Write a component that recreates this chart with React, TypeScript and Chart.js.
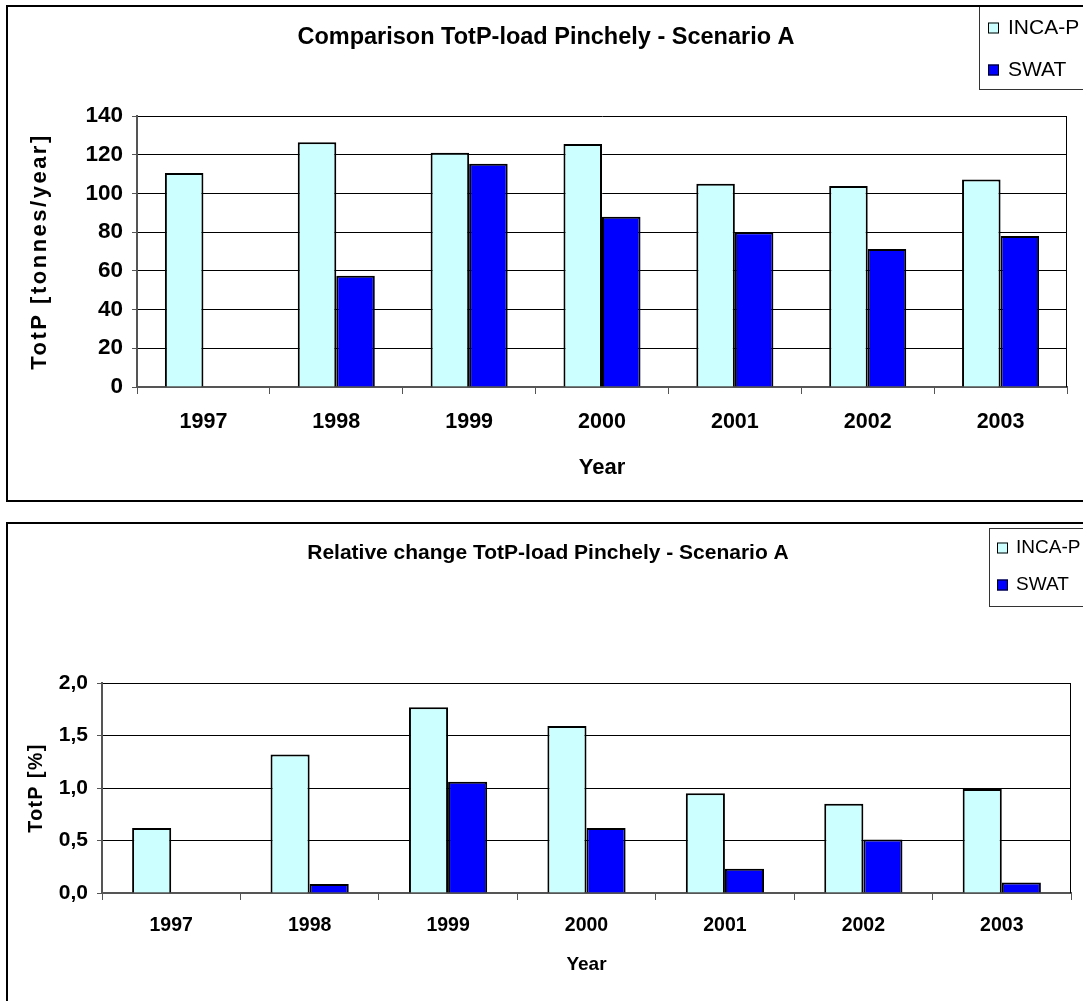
import React, { useEffect, useRef } from 'react';
import { Chart, registerables } from 'chart.js';

Chart.register(...registerables);

// ---------- data ----------
const years = ['1997', '1998', '1999', '2000', '2001', '2002', '2003'];
const seriesNames = ['INCA-P', 'SWAT'];
const loadIncaP = [110.5, 126.5, 121, 125.5, 105, 103.8, 107.2];
const loadSwat = [null, 57.5, 115.3, 88, 80, 71.3, 78];
const relIncaP = [0.62, 1.32, 1.77, 1.59, 0.95, 0.85, 0.99];
const relSwat = [null, 0.085, 1.06, 0.62, 0.23, 0.51, 0.1];
const loadTickValues = [0, 20, 40, 60, 80, 100, 120, 140];
const relTickValues = [0, 0.5, 1, 1.5, 2];
const relTickLabels = ['0,0', '0,5', '1,0', '1,5', '2,0'];

const FONT = '"Liberation Sans", Arial, sans-serif';
const INCA_COLOR = '#CCFFFF';
const SWAT_COLOR = '#0000FF';

const decoPlugin = {
  id: 'deco',
  afterDraw(chart: any, _args: any, opts: any) {
    const ctx = chart.ctx;
    const ca = chart.chartArea;
    ctx.save();
    // plot-area right border
    ctx.strokeStyle = '#000';
    ctx.lineWidth = 1;
    ctx.beginPath();
    ctx.moveTo(ca.right - 0.5, ca.top);
    ctx.lineTo(ca.right - 0.5, ca.bottom);
    ctx.stroke();

    // chart title
    ctx.fillStyle = '#000';
    ctx.textAlign = 'center';
    ctx.textBaseline = 'middle';
    ctx.font = `bold ${opts.titleSize}px ${FONT}`;
    ctx.fillText(opts.title, opts.titleX, opts.titleY);

    // y-axis title (letter-spaced)
    ctx.save();
    ctx.translate(opts.yTitleX, (ca.top + ca.bottom) / 2);
    ctx.rotate(-Math.PI / 2);
    ctx.font = `bold ${opts.yTitleSize}px ${FONT}`;
    (ctx as any).letterSpacing = `${opts.yTitleSpacing}px`;
    ctx.textAlign = 'center';
    ctx.fillText(opts.yTitle, 0, 0);
    ctx.restore();

    // legend
    const [lx, ly, lw, lh] = opts.legendBox;
    ctx.fillStyle = '#fff';
    ctx.fillRect(lx, ly, lw, lh);
    ctx.strokeStyle = '#333';
    ctx.lineWidth = 1;
    ctx.strokeRect(lx + 0.5, ly + 0.5, lw, lh);
    chart.data.datasets.forEach((ds: any, i: number) => {
      const y = opts.legendY[i];
      ctx.fillStyle = ds.backgroundColor;
      ctx.fillRect(opts.markerX, y - 5.5, 11, 11);
      ctx.strokeStyle = '#000';
      ctx.strokeRect(opts.markerX + 0.5, y - 5, 10, 10);
      ctx.fillStyle = '#000';
      ctx.font = `${opts.legendSize}px ${FONT}`;
      ctx.textAlign = 'left';
      ctx.textBaseline = 'middle';
      ctx.fillText(ds.label, opts.textX, y);
    });
    ctx.restore();
  },
};

function makeConfig(p: any) {
  const xTickFont = { family: FONT, size: p.xTickSize, weight: 'bold' as const };
  const yTickFont = { family: FONT, size: p.yTickSize, weight: 'bold' as const };
  const xTitleFont = { family: FONT, size: p.xTitleSize, weight: 'bold' as const };
  return {
    type: 'bar' as const,
    data: {
      labels: years,
      datasets: [
        {
          label: seriesNames[0],
          data: p.inca,
          backgroundColor: INCA_COLOR,
          borderColor: '#000',
          borderWidth: 2,
          barPercentage: 1,
          categoryPercentage: p.catPct,
        },
        {
          label: seriesNames[1],
          data: p.swat,
          backgroundColor: SWAT_COLOR,
          borderColor: '#000',
          borderWidth: 2,
          barPercentage: 1,
          categoryPercentage: p.catPct,
        },
      ],
    },
    options: {
      animation: false as const,
      responsive: false,
      maintainAspectRatio: false,
      layout: { padding: { left: 0, top: p.plotTop, right: p.padRight, bottom: 0 } },
      plugins: {
        legend: { display: false },
        title: { display: false },
        tooltip: { enabled: false },
        deco: p.deco,
      },
      scales: {
        x: {
          type: 'category' as const,
          grid: {
            display: true,
            drawOnChartArea: false,
            drawTicks: true,
            tickLength: 7,
            color: '#555',
            lineWidth: 1,
            offset: true,
          },
          border: { display: true, color: '#555', width: 2 },
          ticks: { font: xTickFont, color: '#000', padding: p.xTickPad, maxRotation: 0, autoSkip: false },
          title: {
            display: true,
            text: 'Year',
            font: xTitleFont,
            color: '#000',
            padding: { top: 0, bottom: p.xTitlePad },
          },
          afterFit: (s: any) => {
            s.height = p.xHeight;
          },
        },
        y: {
          min: p.yMin,
          max: p.yMax,
          afterBuildTicks: (s: any) => {
            s.ticks = p.tickValues.map((v: number) => ({ value: v }));
          },
          grid: { color: '#000', lineWidth: 1, tickLength: 5, tickColor: '#555', drawTicks: true },
          border: { display: true, color: '#555', width: 2 },
          ticks: {
            font: yTickFont,
            color: '#000',
            padding: 9,
            callback: p.tickCallback,
          },
          afterFit: (s: any) => {
            s.width = p.yWidth;
          },
        },
      },
    },
    plugins: [decoPlugin],
  };
}

function BarChart({ width, height, params }: { width: number; height: number; params: any }) {
  const ref = useRef<HTMLCanvasElement | null>(null);
  useEffect(() => {
    if (!ref.current) return;
    const chart = new Chart(ref.current, makeConfig(params) as any);
    return () => chart.destroy();
  }, []);
  return <canvas ref={ref} width={width} height={height} style={{ display: 'block', width, height }} />;
}

const topParams = {
  inca: loadIncaP,
  swat: loadSwat,
  catPct: 0.58,
  plotTop: 116,
  padRight: 16,
  xHeight: 115,
  xTickPad: 15,
  xTitlePad: 21,
  xTickSize: 21.5,
  yTickSize: 22.5,
  xTitleSize: 22,
  yMin: 0,
  yMax: 140,
  yWidth: 137,
  tickValues: loadTickValues,
  tickCallback: (v: any) => String(v),
  deco: {
    title: 'Comparison TotP-load Pinchely - Scenario A',
    titleSize: 23.5,
    titleX: 546,
    titleY: 38,
    yTitle: 'TotP [tonnes/year]',
    yTitleSize: 22,
    yTitleSpacing: 2.5,
    yTitleX: 40,
    legendBox: [979, 6, 120, 83],
    legendY: [28, 70],
    markerX: 988,
    textX: 1008,
    legendSize: 21,
  },
};

const bottomParams = {
  inca: relIncaP,
  swat: relSwat,
  catPct: 0.565,
  plotTop: 181,
  padRight: 12,
  xHeight: 108,
  xTickPad: 14,
  xTitlePad: 24.5,
  xTickSize: 19.5,
  yTickSize: 21,
  xTitleSize: 19,
  yMin: 0,
  yMax: 2,
  yWidth: 102,
  tickValues: relTickValues,
  tickCallback: (v: any) => {
    const i = relTickValues.indexOf(Number(v));
    return i >= 0 ? relTickLabels[i] : '';
  },
  deco: {
    title: 'Relative change TotP-load Pinchely - Scenario A',
    titleSize: 21,
    titleX: 548,
    titleY: 51,
    yTitle: 'TotP [%]',
    yTitleSize: 19.5,
    yTitleSpacing: 1.5,
    yTitleX: 37,
    legendBox: [989, 26, 120, 78],
    legendY: [46, 83],
    markerX: 997,
    textX: 1016,
    legendSize: 19,
  },
};

export default function App() {
  return (
    <div
      style={{
        position: 'absolute',
        left: 0,
        top: 0,
        width: 1083,
        height: 1001,
        overflow: 'hidden',
        background: '#fff',
      }}
    >
      <div style={{ position: 'absolute', left: 0, top: 0 }}>
        <BarChart width={1083} height={502} params={topParams} />
      </div>
      <div style={{ position: 'absolute', left: 0, top: 502 }}>
        <BarChart width={1083} height={499} params={bottomParams} />
      </div>
      <div
        style={{
          position: 'absolute',
          left: 6,
          top: 5,
          width: 1100,
          height: 497,
          boxSizing: 'border-box',
          border: '2px solid #000',
          pointerEvents: 'none',
        }}
      />
      <div
        style={{
          position: 'absolute',
          left: 6,
          top: 522,
          width: 1100,
          height: 600,
          boxSizing: 'border-box',
          border: '2px solid #000',
          pointerEvents: 'none',
        }}
      />
    </div>
  );
}
